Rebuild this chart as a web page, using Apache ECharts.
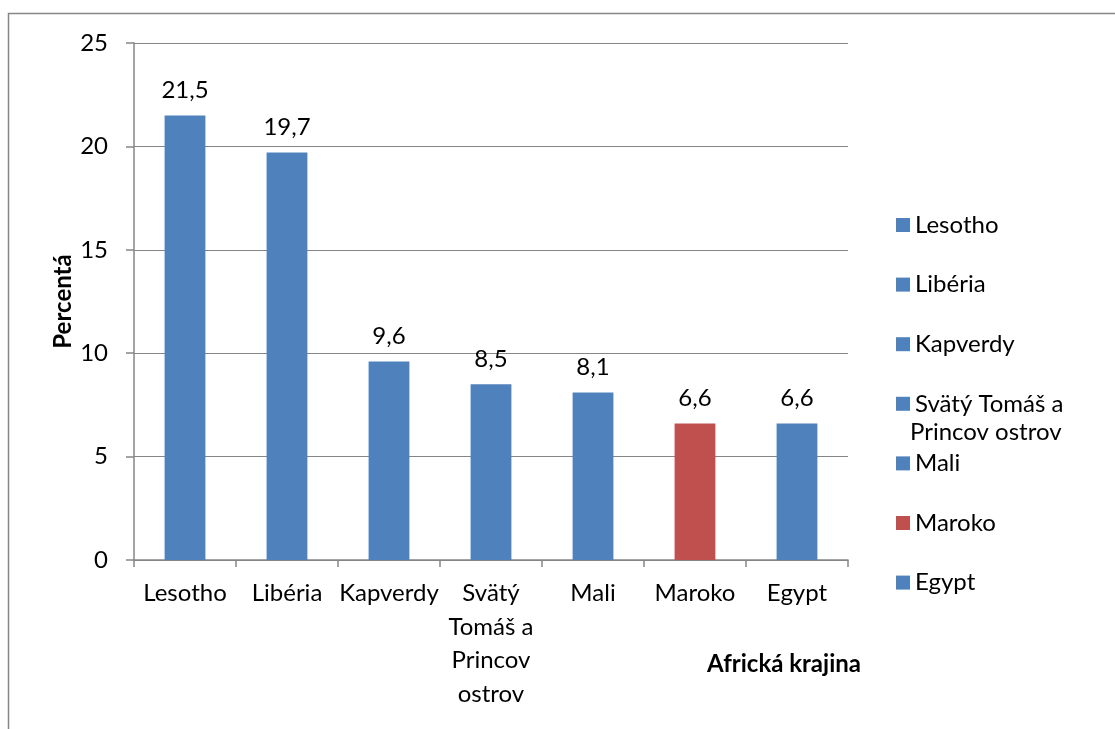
<!DOCTYPE html>
<html>
<head>
<meta charset="utf-8">
<script src="https://cdn.jsdelivr.net/npm/echarts@6/dist/echarts.min.js"></script>
<style>
html,body{margin:0;padding:0;background:#fff;}
#chart{width:1115px;height:729px;}
</style>
</head>
<body>
<div id="chart"></div>
<script>
var categories = ['Lesotho', 'Libéria', 'Kapverdy', 'Svätý Tomáš a Princov ostrov', 'Mali', 'Maroko', 'Egypt'];
var axisLabels = ['Lesotho', 'Libéria', 'Kapverdy', 'Svätý\nTomáš a\nPrincov\nostrov', 'Mali', 'Maroko', 'Egypt'];
var legendLabels = ['Lesotho', 'Libéria', 'Kapverdy', 'Svätý Tomáš a', 'Mali', 'Maroko', 'Egypt'];
var values = [21.5, 19.7, 9.6, 8.5, 8.1, 6.6, 6.6];
var barColors = ['#4F81BD', '#4F81BD', '#4F81BD', '#4F81BD', '#4F81BD', '#C0504D', '#4F81BD'];
var yTicks = [0, 5, 10, 15, 20, 25];

var FONT = 'Lato';
var FS = 24;

var series = categories.map(function (name, i) {
  var d = categories.map(function (c, j) { return j === i ? values[i] : '-'; });
  return {
    name: name,
    type: 'bar',
    data: d,
    barWidth: '40%',
    barGap: '-100%',
    itemStyle: { color: barColors[i] },
    label: {
      show: true,
      position: 'top',
      distance: 13,
      color: '#000',
      fontFamily: FONT,
      fontSize: FS,
      formatter: function (p) { return String(p.value).replace('.', ','); }
    }
  };
});

var chart = echarts.init(document.getElementById('chart'), null, { renderer: 'canvas' });
chart.setOption({
  animation: false,
  backgroundColor: '#fff',
  textStyle: { fontFamily: FONT },
  grid: { left: 134, right: 267, top: 43, bottom: 169, containLabel: false, outerBoundsMode: 'none' },
  xAxis: {
    type: 'category',
    data: categories,
    name: 'Africká krajina',
    nameLocation: 'middle',
    nameGap: 92,
    nameMoveOverlap: false,
    nameTextStyle: { fontFamily: FONT, fontSize: FS, fontWeight: 'bold', color: '#000', padding: [0, 0, 0, 586] },
    axisLine: { lineStyle: { color: '#868686', width: 1.5 } },
    axisTick: { show: true, alignWithLabel: false, length: 7, lineStyle: { color: '#868686', width: 1.5 } },
    axisLabel: {
      color: '#000', fontFamily: FONT, fontSize: FS, lineHeight: 33.5, margin: 17, interval: 0,
      formatter: function (v, i) { return axisLabels[i]; }
    },
    splitLine: { show: false }
  },
  yAxis: {
    type: 'value',
    min: yTicks[0],
    max: yTicks[yTicks.length - 1],
    interval: 5,
    name: 'Percentá',
    nameLocation: 'middle',
    nameGap: 59,
    nameMoveOverlap: false,
    nameTextStyle: { fontFamily: FONT, fontSize: FS, fontWeight: 'bold', color: '#000' },
    axisLine: { show: true, lineStyle: { color: '#868686', width: 1.5 } },
    axisTick: { show: true, length: 8, lineStyle: { color: '#868686', width: 1.5 } },
    axisLabel: { color: '#000', fontFamily: FONT, fontSize: FS, margin: 26 },
    splitLine: { show: true, lineStyle: { color: '#868686', width: 1.2 } }
  },
  legend: {
    orient: 'vertical',
    left: 891,
    top: 207,
    itemWidth: 14,
    itemHeight: 14,
    itemGap: 33.6,
    icon: 'rect',
    data: categories,
    textStyle: { color: '#000', fontFamily: FONT, fontSize: FS, lineHeight: 26 },
    formatter: function (name) { return legendLabels[categories.indexOf(name)]; },
    selectedMode: false
  },
  graphic: [
    {
      type: 'rect',
      shape: { x: 8.5, y: 13.5, width: 1200, height: 800 },
      style: { fill: 'none', stroke: '#868686', lineWidth: 1.5 },
      silent: true, z: -10
    },
    {
      type: 'text',
      left: 910,
      top: 420,
      style: { text: 'Princov ostrov', fill: '#000', font: FS + 'px ' + FONT }
    }
  ],
  series: series
});
</script>
</body>
</html>
